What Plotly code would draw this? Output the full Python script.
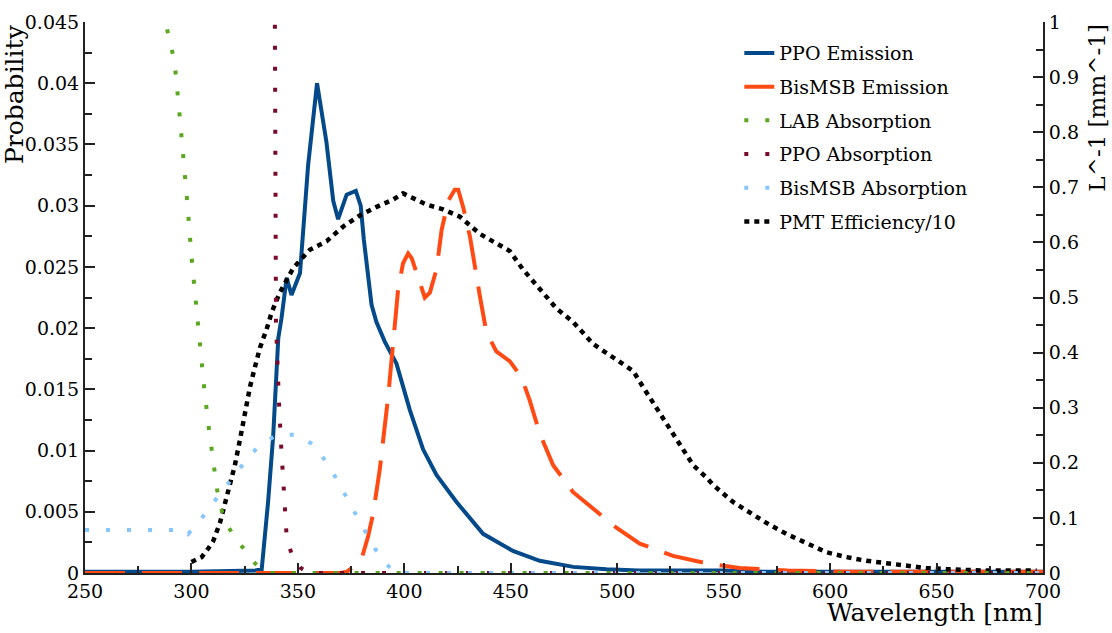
import plotly.graph_objects as go

# wavelengths in nm; emission / PMT values in probability (left axis)
ppo_em_x = [250, 300, 330, 333, 336, 338.4, 340.8, 342.3, 344.7, 347, 351, 354.8, 359, 363.4, 366.6,
            368.9, 372.9, 377.2, 379.5, 381, 384.6, 386.9, 390.8, 396.3, 402.6, 408.8, 415.1, 424.5,
            437, 451, 463.6, 479.3, 494.9, 510, 530, 550, 570, 700]
ppo_em_y = [0.0001, 0.0001, 0.0002, 0.0003, 0.0058, 0.0112, 0.0192, 0.0208, 0.0241, 0.0227, 0.0245,
            0.0333, 0.0400, 0.0352, 0.0304, 0.0289, 0.0309, 0.0312, 0.0300, 0.0272, 0.0219, 0.0205,
            0.0189, 0.0171, 0.0133, 0.0101, 0.0080, 0.0058, 0.0032, 0.0018, 0.0010, 0.0005, 0.0003,
            0.0002, 0.0002, 0.0002, 0.0001, 0.0001]

bis_em_x = [250, 370, 373, 376, 380, 383, 385.3, 388.5, 392.4, 394.7, 397.1, 399.4, 401.8, 403.5,
            405.7, 409.6, 412, 415.1, 417.5, 420.6, 423.7, 425.3, 427.6, 430.8, 435.4, 438.5, 443.2,
            449.5, 455, 458.9, 463.6, 469.9, 479.3, 488.7, 499.6, 510.6, 526.2, 541.9, 557.5, 580,
            610, 700]
bis_em_y = [0, 0, 0.0001, 0.0005, 0.0012, 0.0030, 0.0048, 0.0085, 0.0144, 0.0187, 0.0232, 0.0253,
            0.0261, 0.0257, 0.0245, 0.0225, 0.0229, 0.0248, 0.0280, 0.0304, 0.0313, 0.0313, 0.0299,
            0.0275, 0.0227, 0.0197, 0.0181, 0.0173, 0.0160, 0.0141, 0.0114, 0.0088, 0.0066, 0.0053,
            0.0037, 0.0024, 0.0014, 0.0008, 0.0004, 0.0002, 0.0001, 0.0001]

pmt_x = [300, 304.8, 307.9, 310.2, 313.4, 315.7, 318.1, 320.4, 322.8, 325.1, 327.5, 329.8, 332.2,
         335.3, 337.7, 341.5, 347.8, 355.6, 363.5, 371.3, 379.1, 387, 394.7, 399.4, 410.3, 418.2,
         426.1, 435.4, 444.8, 449.5, 455.7, 463.6, 471.5, 479.3, 488.7, 498.1, 507.5, 512.1, 520,
         527.8, 535.7, 541.9, 545, 554.4, 562.2, 570, 579.4, 588.8, 598.2, 607.6, 617, 626.4,
         635.8, 645.2, 656, 671.7, 697]
pmt_y = [0.0009, 0.0013, 0.0020, 0.0026, 0.0041, 0.0056, 0.0072, 0.0088, 0.0109, 0.0130, 0.0152,
         0.0168, 0.0184, 0.0199, 0.0213, 0.0229, 0.0249, 0.0264, 0.0271, 0.0283, 0.0292, 0.0299,
         0.0305, 0.0310, 0.0301, 0.0297, 0.0291, 0.0277, 0.0268, 0.0263, 0.0248, 0.0232, 0.0216,
         0.0205, 0.0187, 0.0176, 0.0165, 0.0152, 0.0130, 0.0109, 0.0088, 0.0078, 0.0072, 0.0058,
         0.0049, 0.0041, 0.0032, 0.0024, 0.0017, 0.0013, 0.0010, 0.0008, 0.0006, 0.0004, 0.0003,
         0.0002, 0.0002]

# absorption in mm^-1 (right axis)
lab_abs_x = [285, 288, 290, 292, 294, 296, 298, 300, 302, 304, 306, 308, 310, 312, 315, 320, 325,
             330, 335, 700]
lab_abs_y = [1.10, 0.996, 0.962, 0.930, 0.850, 0.765, 0.675, 0.575, 0.495, 0.400, 0.335, 0.268,
             0.209, 0.152, 0.100, 0.066, 0.042, 0.017, 0.0, 0.0]

ppo_abs_x = [338.6, 339.2, 339.7, 340.3, 341.1, 342, 343, 343.9, 344.8, 347.8, 351, 355, 700]
ppo_abs_y = [1.30, 0.995, 0.456, 0.382, 0.311, 0.240, 0.167, 0.096, 0.060, 0.027, 0.010, 0.0, 0.0]

bis_abs_x = [250, 297, 298.5, 303.2, 308.7, 314.6, 320.4, 326.2, 332.2, 340.3, 349.9, 358, 363.1,
             367.8, 372.5, 377.1, 381.5, 386.2, 391.6, 396, 700]
bis_abs_y = [0.078, 0.078, 0.071, 0.091, 0.120, 0.149, 0.178, 0.207, 0.233, 0.251, 0.251, 0.231,
             0.202, 0.173, 0.140, 0.109, 0.076, 0.044, 0.016, 0.0, 0.0]

# tick labels
left_ticks = [0, 0.005, 0.01, 0.015, 0.02, 0.025, 0.03, 0.035, 0.04, 0.045]
left_labels = ['0', '0.005', '0.01', '0.015', '0.02', '0.025', '0.03', '0.035', '0.04', '0.045']
right_ticks = [0, 0.1, 0.2, 0.3, 0.4, 0.5, 0.6, 0.7, 0.8, 0.9, 1.0]
right_labels = ['0', '0.1', '0.2', '0.3', '0.4', '0.5', '0.6', '0.7', '0.8', '0.9', '1']

FONT = 'DejaVu Serif'

fig = go.Figure()
fig.add_trace(go.Scatter(x=ppo_em_x, y=ppo_em_y, mode='lines', name='PPO Emission',
                         line=dict(color='#044a8a', width=4), legendrank=1, legendgroup='a'))
fig.add_trace(go.Scatter(x=bis_em_x, y=bis_em_y, mode='lines', name='BisMSB Emission',
                         line=dict(color='#ff4a14', width=4, dash='40px,17px'),
                         legendrank=2, legendgroup='b'))
fig.add_trace(go.Scatter(x=pmt_x, y=pmt_y, mode='lines', name='PMT Efficiency/10',
                         line=dict(color='black', width=4.5, dash='5px,5px'),
                         legendrank=6, legendgroup='f'))
fig.add_trace(go.Scatter(x=lab_abs_x, y=lab_abs_y, mode='lines', name='LAB Absorption', yaxis='y2',
                         line=dict(color='#5ba71f', width=4, dash='4px,17px'),
                         legendrank=3, legendgroup='c'))
fig.add_trace(go.Scatter(x=ppo_abs_x, y=ppo_abs_y, mode='lines', name='PPO Absorption', yaxis='y2',
                         line=dict(color='#7a0a2c', width=4, dash='4px,17px'),
                         legendrank=4, legendgroup='d'))
fig.add_trace(go.Scatter(x=bis_abs_x, y=bis_abs_y, mode='lines', name='BisMSB Absorption', yaxis='y2',
                         line=dict(color='#86c6fa', width=4, dash='4px,17px'),
                         legendrank=5, legendgroup='e'))

axis_common = dict(showline=True, linecolor='#222222', linewidth=2, showgrid=False,
                   zeroline=False, ticks='inside', tickcolor='#222222', tickwidth=1.5,
                   ticklabeloverflow='allow',
                   tickfont=dict(family=FONT, size=19, color='black'))

fig.update_layout(
    width=1112, height=633,
    margin=dict(l=85, r=69, t=11, b=60),
    paper_bgcolor='white', plot_bgcolor='white',
    font=dict(family=FONT, color='black'),
    xaxis=dict(range=[250, 700], dtick=50, ticklen=10,
               minor=dict(dtick=25, ticks='inside', ticklen=7, tickcolor='#222222'),
               **axis_common),
    xaxis2=dict(overlaying='x', side='top', range=[0, 16], dtick=1, ticklen=9,
                showticklabels=False, **axis_common),
    yaxis=dict(range=[0, 0.045], tickmode='array', tickvals=left_ticks, ticktext=left_labels,
               ticklen=10,
               minor=dict(dtick=0.0025, ticks='inside', ticklen=7, tickcolor='#222222'),
               **axis_common),
    yaxis2=dict(overlaying='y', side='right', range=[0, 1], tickmode='array',
                tickvals=right_ticks, ticktext=right_labels, ticklen=10,
                minor=dict(dtick=0.05, ticks='inside', ticklen=7, tickcolor='#222222'),
                **axis_common),
    showlegend=True,
    legend=dict(x=0.683, y=0.978, xanchor='left', yanchor='top', bgcolor='rgba(0,0,0,0)',
                font=dict(family=FONT, size=19), traceorder='grouped', tracegroupgap=6,
                itemwidth=30),
    annotations=[
        dict(text='Wavelength [nm]', xref='paper', yref='paper', x=1.002, y=-0.072,
             xanchor='right', yanchor='middle', showarrow=False,
             font=dict(family=FONT, size=25)),
        dict(text='Probability', xref='paper', yref='paper', x=-0.074, y=1.0,
             xanchor='center', yanchor='top', textangle=-90, showarrow=False,
             font=dict(family=FONT, size=25)),
        dict(text='L^-1 [mm^-1]', xref='paper', yref='paper', x=1.056, y=1.0,
             xanchor='center', yanchor='top', textangle=-90, showarrow=False,
             font=dict(family=FONT, size=23)),
    ],
)

# drop the default page margin so the figure fills the window exactly
fig.write_html('out.html', config={'displayModeBar': False},
               post_script="document.body.style.margin='0';")
